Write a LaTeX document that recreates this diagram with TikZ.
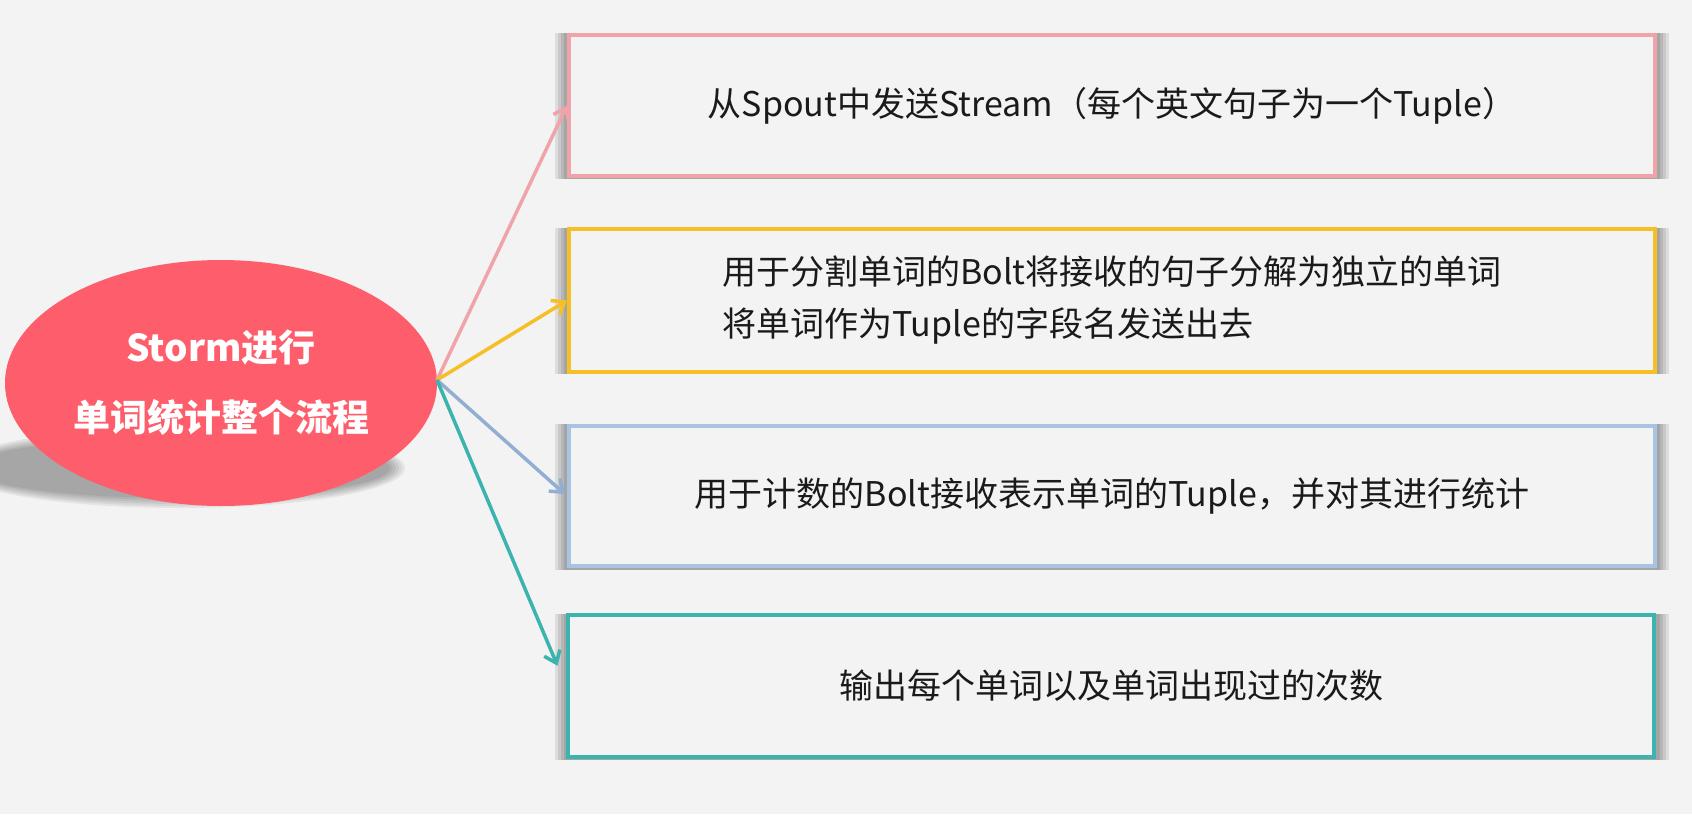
\documentclass[tikz,border=0pt]{standalone}
\usepackage{fontspec}
\newfontfamily\cjk{Noto Sans CJK SC}
\usetikzlibrary{arrows.meta,shapes.geometric,calc}
\definecolor{bgc}{HTML}{F3F3F3}
\definecolor{pinkc}{HTML}{F0A3A9}
\definecolor{yelc}{HTML}{F6BF26}
\definecolor{bluec}{HTML}{A9C3E2}
\definecolor{bluea}{HTML}{93AED3}
\definecolor{tealc}{HTML}{3BB3AE}
\definecolor{redc}{HTML}{FE5E6B}
\definecolor{txtc}{HTML}{1A1A1A}
\tikzset{
  stepbox/.style={draw=#1, line width=4pt, fill=bgc, minimum width=1086pt, minimum height=141pt, inner sep=0pt, text=txtc, font=\cjk\fontsize{34}{52}\selectfont, align=left},
  conn/.style={draw=#1, line width=3.5pt, -{Straight Barb[length=11pt,width=17pt,line width=3.5pt]}},
}
\begin{document}
\begin{tikzpicture}[x=1pt,y=-1pt]
\fill[bgc] (0,0) rectangle (1692,814);
\useasboundingbox (0,0) rectangle (1692,814);
% ellipse shadow
\foreach \s in {0,3,6,9,12,15}{
  \fill[black,opacity=0.06] (180,468) ellipse ({225-\s} and {40-\s/1.5});
}
\node[ellipse, fill=redc, minimum width=432pt, minimum height=246pt, inner sep=0pt,
      text=white, align=center, font=\cjk\bfseries\fontsize{37}{70}\selectfont] (c) at (221,383) {Storm进行\\单词统计整个流程};
% box shadows
\foreach \cy in {105.5,300.5,496,686}{
  \foreach \e in {14,11,8,5}{
    \fill[black,opacity=0.09] ({1112-543-\e},{\cy-70.5-2}) rectangle ({1112+543+\e},{\cy+70.5+3});
  }
}
\node[stepbox=pinkc] (b1) at (1112,105.5) {从Spout中发送Stream（每个英文句子为一个Tuple）};
\node[stepbox=yelc, minimum height=143pt] (b2) at (1112,300.5) {用于分割单词的Bolt将接收的句子分解为独立的单词\\将单词作为Tuple的字段名发送出去};
\node[stepbox=bluec, minimum height=140pt] (b3) at (1112,496) {用于计数的Bolt接收表示单词的Tuple，并对其进行统计};
\node[stepbox=tealc, minimum height=142pt] (b4) at (1111,686) {输出每个单词以及单词出现过的次数};
\coordinate (o) at (437,380);
\draw[conn=pinkc] (o) -- (b1.west);
\draw[conn=yelc] (o) -- (b2.west);
\draw[conn=bluea, shorten >=3pt] (o) -- (b3.west);
\draw[conn=tealc, shorten >=22pt] (o) -- (b4.west);
\end{tikzpicture}
\end{document}
